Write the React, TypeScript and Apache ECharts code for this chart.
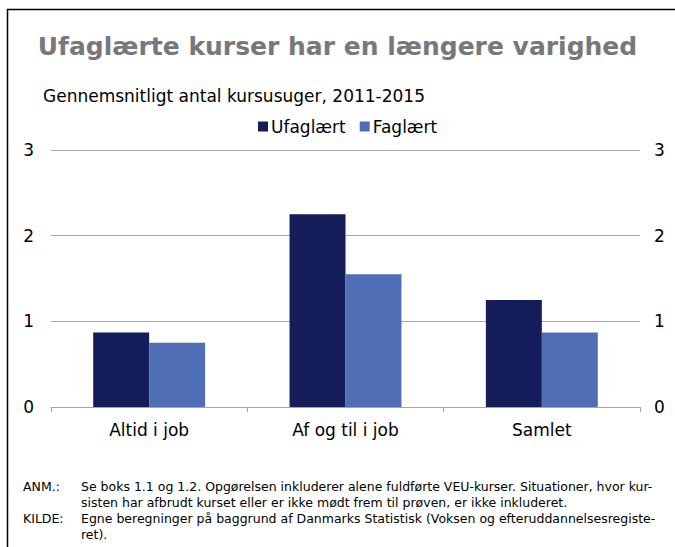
import React, { useEffect, useRef } from "react";
import * as echarts from "echarts";

const categories = ["Altid i job", "Af og til i job", "Samlet"];
const ufaglaert = [0.87, 2.25, 1.25];
const faglaert = [0.75, 1.55, 0.87];
const seriesNames = ["Ufaglært", "Faglært"];
const titleText = "Ufaglærte kurser har en længere varighed";
const subtitleText = "Gennemsnitligt antal kursusuger, 2011-2015";
const noteLabels = ["ANM.:", "KILDE:"];
const noteLines = [
  "Se boks 1.1 og 1.2. Opgørelsen inkluderer alene fuldførte VEU-kurser. Situationer, hvor kur-",
  "sisten har afbrudt kurset eller er ikke mødt frem til prøven, er ikke inkluderet.",
  "Egne beregninger på baggrund af Danmarks Statistisk (Voksen og efteruddannelsesregiste-",
  "ret).",
];

const FONT = "DejaVu Sans, Verdana, sans-serif";

export default function App() {
  const ref = useRef<HTMLDivElement>(null);
  useEffect(() => {
    if (!ref.current) return;
    const chart = echarts.init(ref.current, undefined, { renderer: "svg" });
    const yAxisCommon = {
      type: "value",
      min: 0,
      max: 3,
      interval: 1,
      axisLine: { show: false },
      axisTick: { show: false },
      axisLabel: { color: "#000", fontSize: 17, fontFamily: FONT },
      splitLine: { lineStyle: { color: "#a6a6a6", width: 1 } },
    };
    chart.setOption({
      animation: false,
      backgroundColor: "#fff",
      textStyle: { fontFamily: FONT },
      title: {
        text: titleText,
        left: "center",
        top: 29,
        textStyle: { color: "#76787b", fontSize: 25, fontWeight: "bold", fontFamily: FONT },
      },
      legend: {
        data: seriesNames,
        top: 113,
        left: 253,
        itemWidth: 10,
        itemHeight: 10,
        itemGap: 14,
        icon: "rect",
        textStyle: { color: "#000", fontSize: 17, fontFamily: FONT, padding: [0, 0, 0, -2] },
      },
      grid: { left: 51, right: 35, top: 150, bottom: 140 },
      xAxis: {
        type: "category",
        data: categories,
        axisLine: { lineStyle: { color: "#a6a6a6" } },
        axisTick: { show: true, length: 5, lineStyle: { color: "#a6a6a6" } },
        axisLabel: { color: "#000", fontSize: 17, fontFamily: FONT, margin: 14 },
      },
      yAxis: [
        { ...yAxisCommon, position: "left", axisLabel: { ...yAxisCommon.axisLabel, margin: 17 } },
        { ...yAxisCommon, position: "right", axisLabel: { ...yAxisCommon.axisLabel, margin: 14 } },
      ],
      series: [
        {
          name: seriesNames[0],
          type: "bar",
          data: ufaglaert,
          barGap: "0%",
          barCategoryGap: "43%",
          itemStyle: { color: "#141c5a" },
        },
        {
          name: seriesNames[1],
          type: "bar",
          data: faglaert,
          itemStyle: { color: "#4f6eb5" },
        },
      ],
      graphic: [
        {
          type: "rect",
          shape: { x: 7.5, y: 9.5, width: 700, height: 600 },
          style: { fill: "none", stroke: "#000", lineWidth: 1.5 },
          silent: true,
        },
        {
          type: "text",
          left: 43,
          top: 87,
          style: { text: subtitleText, fill: "#000", font: `17px ${FONT}` },
        },
        {
          type: "text",
          left: 23,
          top: 480,
          style: { text: noteLabels[0], fill: "#000", font: `12.5px ${FONT}` },
        },
        {
          type: "text",
          left: 23,
          top: 512,
          style: { text: noteLabels[1], fill: "#000", font: `12.5px ${FONT}` },
        },
        ...noteLines.map((line, i) => ({
          type: "text",
          left: 81,
          top: 480 + i * 16,
          style: { text: line, fill: "#000", font: `12.5px ${FONT}` },
        })),
      ],
    });
    return () => chart.dispose();
  }, []);
  return (
    <div
      ref={ref}
      style={{ position: "fixed", left: 0, top: 0, width: 675, height: 547 }}
    />
  );
}
